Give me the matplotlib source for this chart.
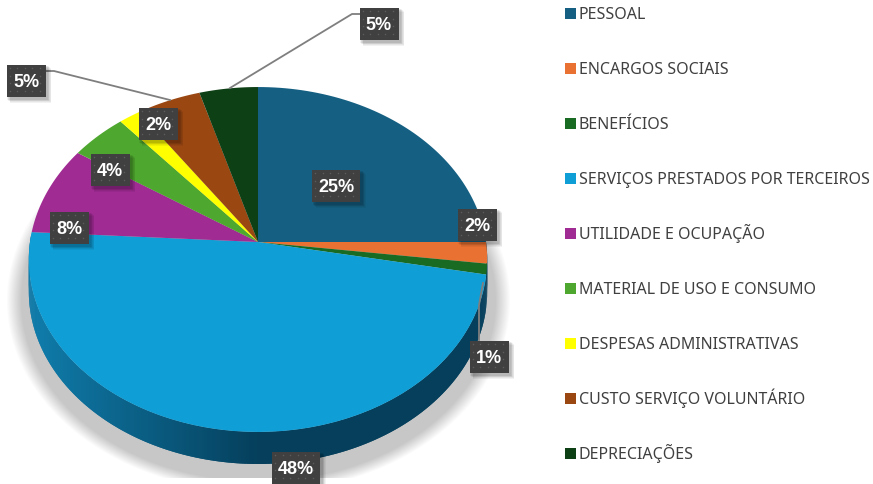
import matplotlib
matplotlib.use("Agg")
import matplotlib.pyplot as plt
import numpy as np
from matplotlib.patches import Rectangle

# Data
categories = [
    "PESSOAL",
    "ENCARGOS SOCIAIS",
    "BENEFÍCIOS",
    "SERVIÇOS PRESTADOS POR TERCEIROS",
    "UTILIDADE E OCUPAÇÃO",
    "MATERIAL DE USO E CONSUMO",
    "DESPESAS ADMINISTRATIVAS",
    "CUSTO SERVIÇO VOLUNTÁRIO",
    "DEPRECIAÇÕES",
]
# labels show them rounded
values = [25.0, 2.0, 1.0, 47.93, 8.35, 4.47, 1.65, 5.05, 4.55]
colors = ["#156082", "#E97132", "#196B24", "#0F9ED5", "#A02B93",
          "#4EA72E", "#FFFF00", "#9A4712", "#0E4016"]

# label box centres, in pixels
label_x = [336, 477, 489, 296, 69, 110, 158, 26, 379]
label_y = [186, 225, 357, 468, 228, 170, 124, 81, 24]

# pie geometry in pixels
cx, cy = 258, 242
rx, ry = 228, 170.7
k = 0.1015
depth = 32


def rim(theta):
    # circle seen in perspective, theta clockwise from the top
    u, v = np.sin(theta), np.cos(theta)
    return cx + rx * u / (1 + k * v), cy - ry * v / (1 + k * v)


fig = plt.figure(figsize=(8.73, 4.84), dpi=100)
ax = fig.add_axes([0, 0, 1, 1])

# soft shadow under the pie
yy, xx = np.mgrid[0:478, 0:560]
d = np.sqrt(((xx - 258) / 252) ** 2 + ((yy - 300) / 192) ** 2)
shadow = np.zeros(d.shape + (4,))
shadow[..., :3] = 0.77
shadow[..., 3] = np.clip((1 - d) / 0.06, 0, 1) * 0.95
ax.imshow(shadow, extent=(0, 560, 478, 0), aspect="auto", zorder=1)
ax.set_xlim(0, 873)
ax.set_ylim(484, 0)
ax.axis("off")

edges = np.radians(np.cumsum([0] + values) * 3.6)

# side wall, shaded along the rim
wall_left = np.array(matplotlib.colors.to_rgb("#0F7AA8"))
wall_dark = np.array(matplotlib.colors.to_rgb("#053F5C"))
for i in range(len(values)):
    if edges[i + 1] <= np.pi / 2 or edges[i] >= 1.5 * np.pi:
        continue
    steps = np.linspace(edges[i], edges[i + 1], int(values[i] * 6) + 3)
    # each quad overlaps the seam of the last one
    for a, b in zip(steps[:-2], steps[2:]):
        xa, ya = rim(a)
        xb, yb = rim(b)
        t = np.clip((xa - 40) / 220, 0, 1)
        c = wall_left * (1 - t) + wall_dark * t
        ax.fill([xa, xb, xb, xa], [ya, yb, yb + depth, ya + depth],
                color=c, lw=0, zorder=2)

# top face
for i, col in enumerate(colors):
    th = np.linspace(edges[i], edges[i + 1], 60)
    px, py = rim(th)
    ax.fill(np.r_[cx, px], np.r_[cy, py], color=col, lw=0, zorder=3)

# leader lines
lead = dict(color="#7F7F7F", lw=1.3, zorder=4)
ax.plot([46, 54, 170], [71, 71, 100], **lead)
ax.plot([360, 352, 230], [14, 14, 88], **lead)
ax.plot([483, 479, 479], [283, 305, 340], **lead)

# data labels
for val, lx, ly in zip(values, label_x, label_y):
    w = 48 if val >= 10 else 39
    h = 32
    for s in range(1, 7):
        ax.add_patch(Rectangle((lx - w / 2 + s * 0.6, ly - h / 2 + s * 0.6), w + 2, h + 2,
                               color="black", alpha=0.05, lw=0, zorder=5))
    ax.add_patch(Rectangle((lx - w / 2, ly - h / 2), w, h, color="#404040", lw=0, zorder=6))
    gx, gy = np.meshgrid(np.arange(lx - w / 2 + 3, lx + w / 2, 7.5),
                         np.arange(ly - h / 2 + 3, ly + h / 2, 7.5))
    ax.plot(gx.ravel(), gy.ravel(), ls="", marker="s", ms=1, mew=0, color="#5C5C5C", zorder=7)
    ax.text(lx, ly + 1.5, f"{val:.0f}%", color="white", fontsize=13, fontweight="bold",
            family="Liberation Sans", ha="center", va="center", zorder=8)

# legend, rows on an even 55 px pitch
for i, (name, col) in enumerate(zip(categories, colors)):
    row = 13 + 55 * i
    ax.add_patch(Rectangle((565, row - 5.5), 11, 11, color=col, lw=0))
    ax.text(579, row + 6, name, color="#404040", fontsize=11.5, family="Noto Sans",
            ha="left", va="baseline")

fig.savefig("out.png", dpi=100)
